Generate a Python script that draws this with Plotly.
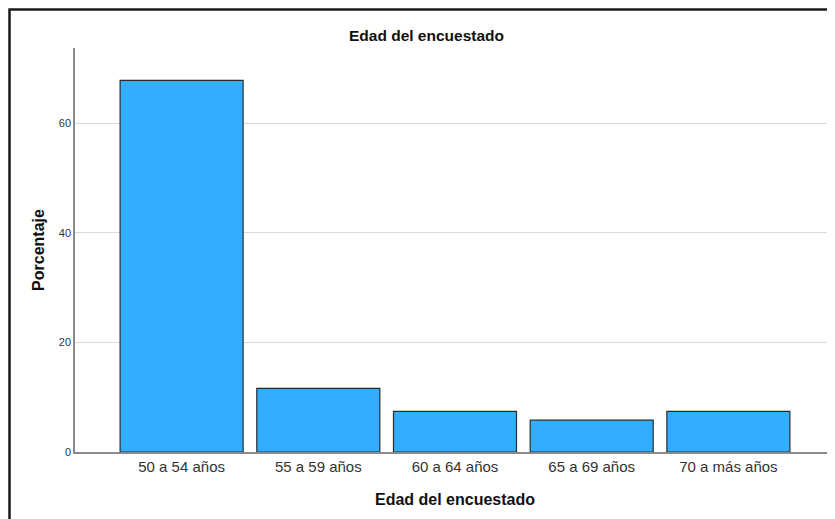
import plotly.graph_objects as go

categories = ["50 a 54 años", "55 a 59 años", "60 a 64 años", "65 a 69 años", "70 a más años"]
percentages = [67.8, 11.6, 7.4, 5.8, 7.4]
y_ticks = [0, 20, 40, 60]

chart_title = "Edad del encuestado"
x_title = "Edad del encuestado"
y_title = "Porcentaje"

# the page body adds an 8px offset, so positions are given in figure pixels
W, H = 835, 519
ml, mr, mt, mb = 67, 8, 40, 75
pw = W - ml - mr
ph = H - mt - mb

fig = go.Figure()
fig.add_trace(go.Bar(
    x=list(range(len(categories))),
    y=percentages,
    marker=dict(color="#31AEFF", line=dict(color="#2b2b2b", width=1.2)),
    width=0.9,
    hoverinfo="skip",
))

def px_x(p):
    return (p - ml) / pw

def px_y(p):
    return (H - mb - p) / ph

fig.update_layout(
    width=W, height=H,
    margin=dict(l=ml, r=mr, t=mt, b=mb),
    paper_bgcolor="white", plot_bgcolor="white",
    font=dict(family="Liberation Sans, Arial, sans-serif", color="#222"),
    showlegend=False,
    title=dict(text="<b>" + chart_title + "</b>", x=px_x(418.5), xref="paper",
               xanchor="center", y=1 - 28 / H, yanchor="middle",
               font=dict(size=15.5, color="#111")),
    xaxis=dict(
        range=[-0.78, 4.78],
        tickmode="array", tickvals=list(range(len(categories))), ticktext=categories,
        tickfont=dict(size=15, color="#333"),
        showgrid=False, zeroline=False,
        showline=True, linecolor="#8a8a8a", linewidth=1.5,
        ticks="", ticklen=0,
        title=dict(text="<b>" + x_title + "</b>", font=dict(size=16, color="#111"), standoff=20),
    ),
    yaxis=dict(
        range=[0, 73.7],
        tickmode="array", tickvals=y_ticks, ticktext=[str(v) for v in y_ticks],
        tickfont=dict(size=11, color="#333"),
        showgrid=True, gridcolor="#d9d9d9", gridwidth=1,
        zeroline=False,
        showline=True, linecolor="#8a8a8a", linewidth=1.5,
        ticks="", ticklen=0,
        title=dict(text="<b>" + y_title + "</b>", font=dict(size=16, color="#111"), standoff=10),
    ),
)

# outer chart frame (top and left edges visible, rest cropped)
fig.add_shape(type="rect", xref="paper", yref="paper",
              x0=px_x(1.5), x1=px_x(900), y0=px_y(600), y1=px_y(1.5),
              line=dict(color="#1a1a1a", width=2.5), fillcolor="rgba(0,0,0,0)", layer="above")

fig.write_html("out.html")
